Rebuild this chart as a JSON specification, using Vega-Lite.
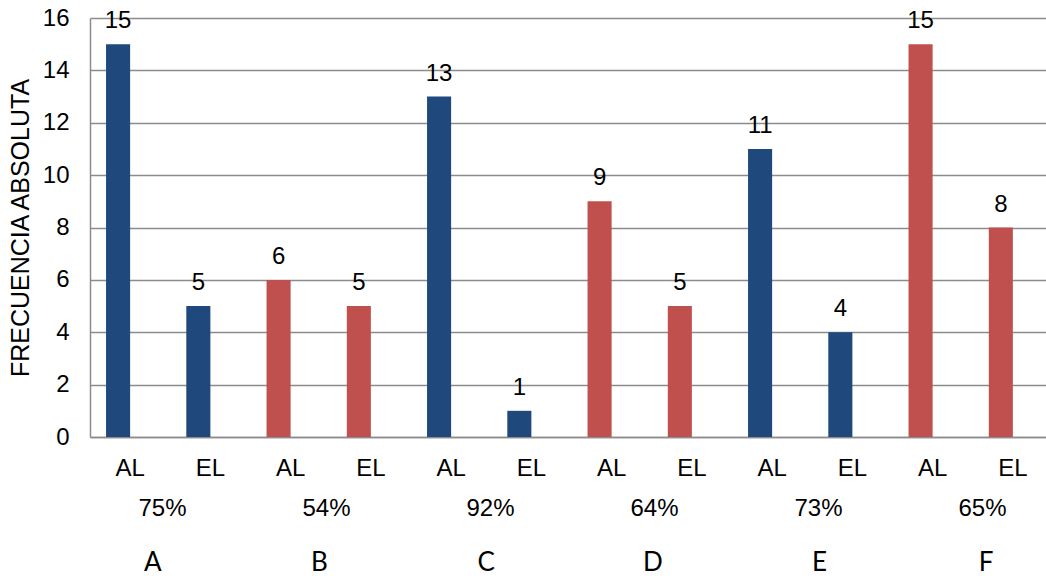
{
  "$schema": "https://vega.github.io/schema/vega-lite/v6.json",
  "width": 956,
  "height": 419,
  "autosize": {"type": "none"},
  "padding": {"left": 90, "top": 18, "right": 0, "bottom": 139},
  "background": "#ffffff",
  "config": {
    "view": {"stroke": null},
    "font": "Liberation Sans",
    "axis": {
      "labelColor": "#000000",
      "labelFont": "Liberation Sans",
      "labelFontSize": 24,
      "titleColor": "#000000",
      "titleFont": "Liberation Sans",
      "titleFontSize": 25,
      "titleFontWeight": "normal",
      "domainColor": "#8c8c8c",
      "domainWidth": 1.5,
      "gridColor": "#8c8c8c",
      "gridWidth": 1.5,
      "ticks": false,
      "tickSize": 0
    }
  },
  "datasets": {
    "frecuencias": [
      {"grupo": "A", "serie": "AL", "cat": "A-AL", "slot": "s1", "frecuencia": 15},
      {"grupo": "A", "serie": "EL", "cat": "A-EL", "slot": "s1", "frecuencia": 5},
      {"grupo": "B", "serie": "AL", "cat": "B-AL", "slot": "s1", "frecuencia": 6},
      {"grupo": "B", "serie": "EL", "cat": "B-EL", "slot": "s1", "frecuencia": 5},
      {"grupo": "C", "serie": "AL", "cat": "C-AL", "slot": "s1", "frecuencia": 13},
      {"grupo": "C", "serie": "EL", "cat": "C-EL", "slot": "s1", "frecuencia": 1},
      {"grupo": "D", "serie": "AL", "cat": "D-AL", "slot": "s1", "frecuencia": 9},
      {"grupo": "D", "serie": "EL", "cat": "D-EL", "slot": "s1", "frecuencia": 5},
      {"grupo": "E", "serie": "AL", "cat": "E-AL", "slot": "s1", "frecuencia": 11},
      {"grupo": "E", "serie": "EL", "cat": "E-EL", "slot": "s1", "frecuencia": 4},
      {"grupo": "F", "serie": "AL", "cat": "F-AL", "slot": "s1", "frecuencia": 15},
      {"grupo": "F", "serie": "EL", "cat": "F-EL", "slot": "s1", "frecuencia": 8}
    ],
    "grupos": [
      {"grupo": "A", "pct": "75%"},
      {"grupo": "B", "pct": "54%"},
      {"grupo": "C", "pct": "92%"},
      {"grupo": "D", "pct": "64%"},
      {"grupo": "E", "pct": "73%"},
      {"grupo": "F", "pct": "65%"}
    ]
  },
  "layer": [
    {
      "data": {"name": "frecuencias"},
      "encoding": {
        "x": {
          "field": "cat",
          "type": "nominal",
          "sort": null,
          "scale": {"range": [0, 963], "paddingInner": 0.4, "paddingOuter": 0.2},
          "axis": {
            "orient": "bottom",
            "title": null,
            "labelAngle": 0,
            "labelExpr": "split(datum.value, '-')[1]",
            "labelPadding": 19,
            "domain": true,
            "grid": false
          }
        },
        "xOffset": {
          "field": "slot",
          "type": "nominal",
          "scale": {"domain": ["s1", "s2"], "paddingInner": 0, "paddingOuter": 0}
        },
        "y": {
          "field": "frecuencia",
          "type": "quantitative",
          "scale": {"domain": [0, 16], "nice": false},
          "axis": {
            "title": "FRECUENCIA ABSOLUTA",
            "values": [0, 2, 4, 6, 8, 10, 12, 14, 16],
            "grid": true,
            "domain": true,
            "labelPadding": 21,
            "titlePadding": 9
          }
        }
      },
      "layer": [
        {
          "mark": {"type": "bar"},
          "encoding": {
            "color": {
              "field": "grupo",
              "type": "nominal",
              "scale": {
                "domain": ["A", "B", "C", "D", "E", "F"],
                "range": ["#1f497d", "#c0504d", "#1f497d", "#c0504d", "#1f497d", "#c0504d"]
              },
              "legend": null
            }
          }
        },
        {
          "mark": {
            "type": "text",
            "baseline": "alphabetic",
            "align": "center",
            "dy": -16,
            "fontSize": 24,
            "font": "Liberation Sans",
            "color": "#000000"
          },
          "encoding": {"text": {"field": "frecuencia", "type": "quantitative"}}
        }
      ]
    },
    {
      "data": {"name": "grupos"},
      "mark": {"type": "point", "opacity": 0},
      "encoding": {
        "x": {
          "field": "pct",
          "type": "nominal",
          "sort": null,
          "scale": {"range": [-10, 974], "paddingInner": 0, "paddingOuter": 0},
          "axis": {
            "orient": "bottom",
            "title": null,
            "labelAngle": 0,
            "labelPadding": 59,
            "domain": false,
            "grid": false
          }
        }
      }
    },
    {
      "data": {"name": "grupos"},
      "mark": {"type": "point", "opacity": 0},
      "encoding": {
        "x": {
          "field": "grupo",
          "type": "nominal",
          "sort": null,
          "scale": {"range": [-21, 979], "paddingInner": 0, "paddingOuter": 0},
          "axis": {
            "orient": "bottom",
            "title": null,
            "labelAngle": 0,
            "labelFont": "Lato",
            "labelFontSize": 26,
            "labelPadding": 112,
            "domain": false,
            "grid": false
          }
        }
      }
    }
  ],
  "resolve": {"scale": {"x": "independent"}, "axis": {"x": "independent"}}
}
